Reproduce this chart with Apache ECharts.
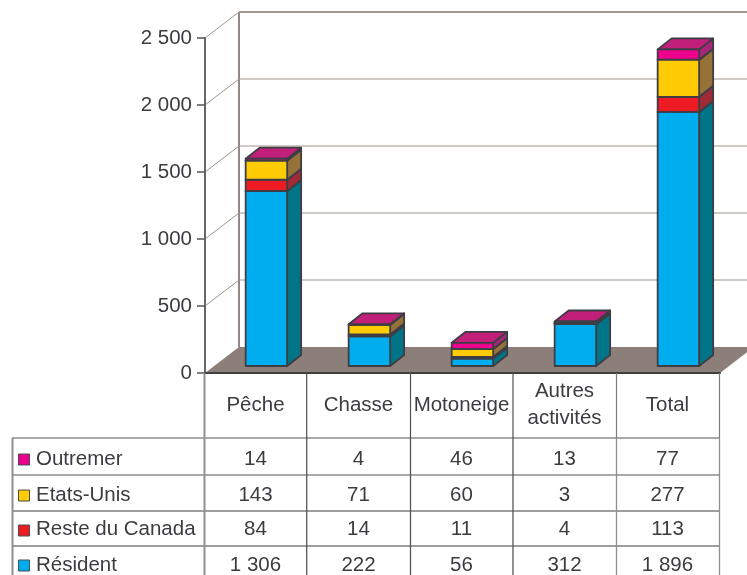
<!DOCTYPE html>
<html><head><meta charset="utf-8">
<style>html,body{margin:0;padding:0;background:#fff}#c{width:747px;height:575px}</style>
<script src="https://cdn.jsdelivr.net/npm/echarts@6/dist/echarts.min.js"></script>
</head><body><div id="c"></div>
<script>
var categories = ['Pêche','Chasse','Motoneige','Autres\nactivités','Total'];
var resident = [1306,222,56,312,1896];
var resteCanada = [84,14,11,4,113];
var etatsUnis = [143,71,60,3,277];
var outremer = [14,4,46,13,77];
var yTicks = [0,500,1000,1500,2000,2500];

var FONT = '"Liberation Sans", Arial, sans-serif';
var FS = 20.5;
var TXT = '#3c3c40', EDGE = '#3f3d44';
var GL = 205, GT = 38, GW = 515, GH = 335;
var WALL_X = 34, WALL_Y = 26;
var BAR_OY = 7, BAR_W = 41.5, DEPTH_X = 14, DEPTH_Y = 11;
var BAR_SHIFT = 9.9;

var stacks = [
  {name:'Résident', values:resident, front:'#00AEEF', side:'#007587', top:'#007587'},
  {name:'Reste du Canada', values:resteCanada, front:'#ED1C24', side:'#9E2B36', top:'#9E2B36'},
  {name:'Etats-Unis', values:etatsUnis, front:'#FFCB05', side:'#977238', top:'#977238'},
  {name:'Outremer', values:outremer, front:'#EC008C', side:'#A62777', top:'#C21F7A'}
];

function fmt(v){ return String(v).replace(/\B(?=(\d{3})+$)/g,' '); }

var cum = [0,0,0,0,0];
var barSeries = stacks.map(function(s){
  var data = s.values.map(function(v,i){ var b = cum[i]; cum[i] += v; return [i,b,cum[i]]; });
  return {
    type:'custom', name:s.name, z:3, coordinateSystem:'cartesian2d', clip:false,
    encode:{x:0,y:[1,2]}, data:data,
    renderItem:function(params,api){
      var c0 = api.coord([api.value(0),api.value(1)]);
      var c1 = api.coord([api.value(0),api.value(2)]);
      var x0 = c0[0]+BAR_SHIFT-BAR_W/2, x1 = x0+BAR_W;
      var yb = c0[1]-BAR_OY, yt = c1[1]-BAR_OY;
      var st = {stroke:EDGE, lineWidth:1.8, lineJoin:'round'};
      function poly(pts,fill){
        return {type:'polygon',shape:{points:pts},style:Object.assign({fill:fill},st)};
      }
      return {type:'group',children:[
        poly([[x1,yb],[x1+DEPTH_X,yb-DEPTH_Y],[x1+DEPTH_X,yt-DEPTH_Y],[x1,yt]],s.side),
        poly([[x0,yt],[x1,yt],[x1+DEPTH_X,yt-DEPTH_Y],[x0+DEPTH_X,yt-DEPTH_Y]],s.top),
        poly([[x0,yb],[x1,yb],[x1,yt],[x0,yt]],s.front)
      ]};
    }
  };
});

var wallSeries = {
  type:'custom', name:'walls', z:1, coordinateSystem:'cartesian2d', clip:false, silent:true,
  encode:{y:0}, data:yTicks.map(function(v){return [v];}),
  renderItem:function(params,api){
    var v = api.value(0);
    var p = api.coord([0,v]);
    var xL = GL, y = p[1];
    var kids = [];
    if (v === 0) {
      kids.push({type:'polygon',shape:{points:[[xL,y],[xL+WALL_X,y-WALL_Y],[xL+GW+WALL_X,y-WALL_Y],[xL+GW,y]]},
        style:{fill:'#8C7F7A',stroke:null}});
      kids.push({type:'line',shape:{x1:xL+WALL_X,y1:y-WALL_Y,x2:xL+WALL_X,y2:GT-WALL_Y},
        style:{stroke:'#938883',lineWidth:2}});
    } else {
      kids.push({type:'line',shape:{x1:xL,y1:y,x2:xL+WALL_X,y2:y-WALL_Y},style:{stroke:'#a0958f',lineWidth:1}});
      kids.push({type:'line',shape:{x1:xL+WALL_X,y1:y-WALL_Y,x2:xL+GW+WALL_X,y2:y-WALL_Y},
        style:{stroke:'#a0958f',lineWidth:v===2500?2:1}});
    }
    return {type:'group',children:kids};
  }
};

// data table
var rowLines = [438,475,511,546];
var rows = [
  {name:'Outremer', values:outremer, color:'#EC008C', y:459, key:460},
  {name:'Etats-Unis', values:etatsUnis, color:'#FFCB05', y:495, key:496},
  {name:'Reste du Canada', values:resteCanada, color:'#ED1C24', y:529, key:531},
  {name:'Résident', values:resident, color:'#00AEEF', y:565, key:566}
];
var g = [];
var colX = [205,306.7,410.5,513,616.5,719.5];
function line(x1,y1,x2,y2,c,w){ g.push({type:'line',z:5,shape:{x1:x1,y1:y1,x2:x2,y2:y2},style:{stroke:c,lineWidth:w}}); }
rowLines.forEach(function(y,i){ line(12,y,719.5,y,i===2||i===3?'#7d7d7d':'#55555a',i===2||i===3?1.5:1.1); });
line(12.5,438,12.5,575,'#8f8f8f',2);
line(204.5,373,204.5,575,'#8f8f8f',2);
colX.slice(1).forEach(function(x,i){
  line(x,373,x,438,i<3?'#4f4f55':'#7d7d7d',1.2);
  line(x,438,x,575,i<3?'#55555a':'#8f8f8f',1.3);
});
rows.forEach(function(r){
  g.push({type:'rect',z:6,shape:{x:18.5,y:r.key-6,width:11,height:11},style:{fill:r.color,stroke:'#4a4a4f',lineWidth:1}});
  g.push({type:'text',z:6,x:36,y:r.y,style:{text:r.name,font:FS+'px '+FONT,fill:TXT,textAlign:'left',textVerticalAlign:'middle'}});
  r.values.forEach(function(v,i){
    g.push({type:'text',z:6,x:GL+(i+0.5)*GW/5-1,y:r.y,style:{text:fmt(v),font:FS+'px '+FONT,fill:TXT,textAlign:'center',textVerticalAlign:'middle'}});
  });
});

var chart = echarts.init(document.getElementById('c'),null,{renderer:'canvas'});
chart.setOption({
  animation:false,
  backgroundColor:'#fff',
  grid:{left:GL,top:GT,width:GW,height:GH,containLabel:false},
  xAxis:{type:'category',data:categories,
    axisLine:{lineStyle:{color:'#3f3f44',width:2}},axisTick:{show:false},
    axisLabel:{interval:0,margin:32,verticalAlign:'middle',lineHeight:27,padding:[0,2,0,0],fontFamily:FONT,fontSize:FS,color:TXT},
    z:4},
  yAxis:{type:'value',min:0,max:2500,interval:500,
    axisLine:{show:true,lineStyle:{color:'#66666a',width:2}},
    axisTick:{show:true,length:8,lineStyle:{color:'#55555a',width:1.5}},
    splitLine:{show:false},
    axisLabel:{margin:13,fontFamily:FONT,fontSize:FS,color:TXT,formatter:function(v){return fmt(v);}},
    z:4},
  series:[wallSeries].concat(barSeries),
  graphic:g
});
</script></body></html>
